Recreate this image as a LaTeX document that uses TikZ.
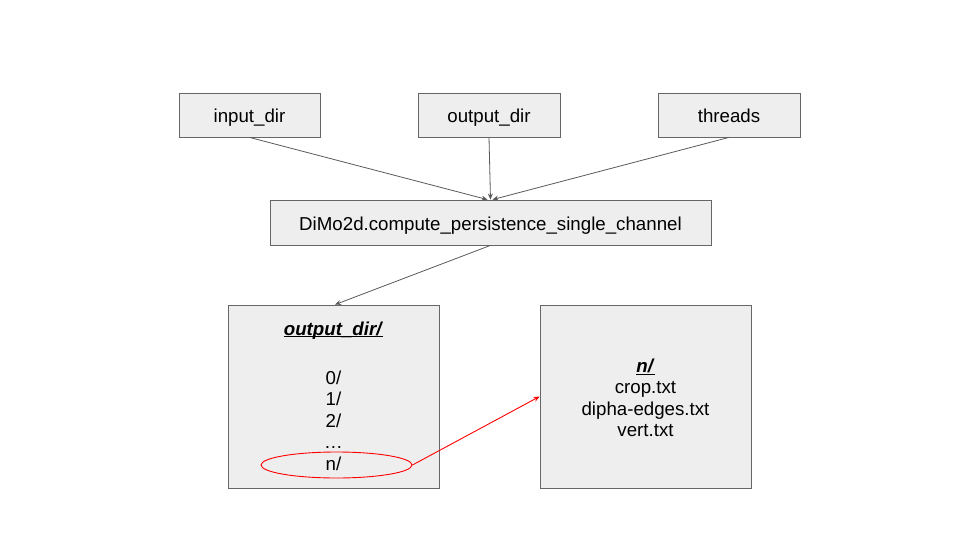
\documentclass[tikz,border=0pt]{standalone}
\usepackage{fontspec}
\setmainfont{Liberation Sans}
\usetikzlibrary{arrows.meta,shapes.geometric}
\definecolor{boxfill}{HTML}{EEEEEE}
\definecolor{boxline}{HTML}{666666}
\definecolor{arrowgray}{HTML}{595959}
\newcommand{\myul}[1]{{\setbox0\hbox{#1}\rlap{\rule[-2.4pt]{\wd0}{1pt}}\box0}}
\begin{document}
\begin{tikzpicture}[x=1pt,y=-1pt,
  box/.style={draw=boxline,fill=boxfill,line width=0.8pt,inner sep=0pt,
    minimum width=#1},
  conn/.style={draw=arrowgray,line width=0.8pt,-{Stealth[length=6pt,width=5pt]}},
  redconn/.style={draw=red,line width=0.9pt,-{Stealth[length=6pt,width=5pt]}},
  txt/.style={font=\fontsize{18.7}{21.5}\selectfont,inner sep=0pt,anchor=base}]
\useasboundingbox (0,0) rectangle (960,540);
\node[box=141pt,minimum height=44pt] (in) at (249.5,115) {};
\node[box=142pt,minimum height=44pt] (out) at (489,115) {};
\node[box=142pt,minimum height=44pt] (thr) at (729,115) {};
\node[box=441pt,minimum height=45pt] (dimo) at (490.5,222.5) {};
\node[box=211pt,minimum height=183pt] (left) at (333.5,396.5) {};
\node[box=211pt,minimum height=183pt] (right) at (645.5,396.5) {};
\node[txt] (intxt) at (249.5,122.5) {input\_dir};
\node[txt] (outtxt) at (489,122.5) {output\_dir};
\node[txt] (thrtxt) at (729,122.5) {threads};
\node[txt] (dimotxt) at (490.5,230) {DiMo2d.compute\_persistence\_single\_channel};
\node[txt] (lefttitle) at (333.5,335) {\myul{\textit{\textbf{output\_dir/}}}};
\node[txt] (l0) at (333.5,384) {0/};
\node[txt] (l1) at (333.5,405.5) {1/};
\node[txt] (l2) at (333.5,427) {2/};
\node[txt] (l3) at (333.5,448.5) {\dots};
\node[txt] (l4) at (333.5,470) {n/};
\node[txt] (righttitle) at (645.5,372.5) {\myul{\textit{\textbf{n/}}}};
\node[txt] (r1) at (645.5,393.5) {crop.txt};
\node[txt] (r2) at (645.5,415) {dipha-edges.txt};
\node[txt] (r3) at (645.5,436.5) {vert.txt};
\node[draw=red,line width=0.9pt,ellipse,minimum width=151pt,minimum height=26pt,inner sep=0pt] (ell) at (336.5,465) {};
\coordinate (dimoA) at ([xshift=-3pt]dimo.north);
\coordinate (dimoC) at ([xshift=2pt]dimo.north);
\coordinate (leftN) at ([xshift=1.5pt]left.north);
\draw[conn] (in.south) -- (dimoA);
\draw[conn] (out.south) -- (dimo.north);
\draw[conn] (thr.south) -- (dimoC);
\draw[conn] (dimo.south) -- (leftN);
\draw[redconn] (ell.east) -- (right.west);
\end{tikzpicture}
\end{document}
